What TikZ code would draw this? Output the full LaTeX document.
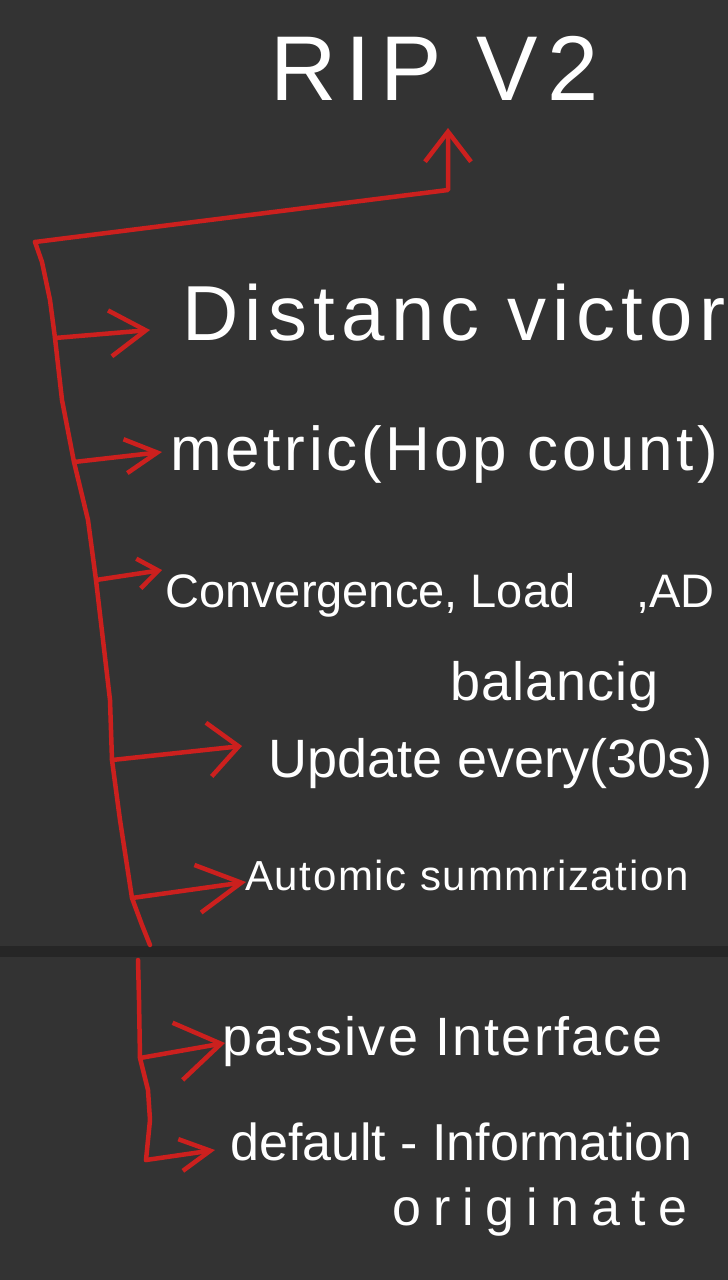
\documentclass[tikz,border=0pt]{standalone}
\usepackage{fontspec}
\setmainfont{Liberation Sans}
\usetikzlibrary{arrows.meta}
\definecolor{board}{RGB}{51,51,51}
\definecolor{band}{RGB}{38,38,38}
\definecolor{ink}{RGB}{204,32,30}
\begin{document}
\begin{tikzpicture}[x=1pt,y=-1pt,
  hand/.style={text=white, inner sep=0pt, anchor=base west},
  redline/.style={draw=ink, line width=4.5pt, line cap=round, line join=round},
  redarrow/.style 2 args={redline, -{Straight Barb[length=#1pt,width=#2pt]}}]
\useasboundingbox (0,0) rectangle (728,1280);
\clip (0,0) rectangle (728,1280);
\fill[board] (0,0) rectangle (728,1280);
\fill[band] (0,946) rectangle (728,957);

% texts
\node[hand, font=\fontsize{92}{92}\selectfont\addfontfeature{LetterSpace=10}] (title) at (270,100) {RIP V2};
\node[hand, font=\fontsize{78}{78}\selectfont\addfontfeature{LetterSpace=8}] (t1) at (182,340) {Distanc victor};
\node[hand, font=\fontsize{62}{62}\selectfont\addfontfeature{LetterSpace=6}] (t2) at (170,470) {metric(Hop count)};
\node[hand, font=\fontsize{47}{47}\selectfont] (t3) at (165,607) {Convergence, Load\hspace{48pt} ,AD};
\node[hand, font=\fontsize{54}{54}\selectfont\addfontfeature{LetterSpace=2}] (t3b) at (450,700) {balancig};
\node[hand, font=\fontsize{54}{54}\selectfont] (t4) at (268,777) {Update every(30s)};
\node[hand, font=\fontsize{42}{42}\selectfont\addfontfeature{LetterSpace=4}] (t5) at (245,890) {Automic summrization};
\node[hand, font=\fontsize{54}{54}\selectfont\addfontfeature{LetterSpace=4}] (t6) at (222,1055) {passive Interface};
\node[hand, font=\fontsize{52}{52}\selectfont] (t7) at (230,1160) {default - Information};
\node[hand, font=\fontsize{52}{52}\selectfont\addfontfeature{LetterSpace=23}] (t7b) at (392,1225) {originate};

% trunk and branch points
\coordinate (top) at (35,242);
\coordinate (b1) at (55,338);
\coordinate (b2) at (74,462);
\coordinate (b3) at (96,580);
\coordinate (b4) at (112,760);
\coordinate (b5) at (132,898);
\coordinate (b6) at (140,1058);
\coordinate (b7) at (146,1160);
\coordinate (a1) at (150,330);
\coordinate (a2) at (162,452);
\coordinate (a3) at (162,570);
\coordinate (a4) at (242,746);
\coordinate (a5) at (246,882);
\coordinate (a6) at (225,1043);
\coordinate (a7) at (215,1150);
\coordinate (up) at (448,128);

\draw[redline] (top) -- (42,262) -- (50,300) -- (b1) -- (62,400) -- (b2) -- (88,520)
  -- (b3) -- (103,640) -- (110,700) -- (b4) -- (120,820) -- (b5) -- (142,925) -- (150,945);
\draw[redline] (138,960) -- (139,1000) -- (b6) -- (148,1090) -- (150,1120) -- (b7);

\draw[redarrow={30}{46}] (top) -- (448,190) -- (up);
\draw[redarrow={36}{46}] (b1) -- (a1);
\draw[redarrow={32}{34}] (b2) -- (a2);
\draw[redarrow={20}{30}] (b3) -- (a3);
\draw[redarrow={30}{54}] (b4) -- (a4);
\draw[redarrow={44}{48}] (b5) -- (a5);
\draw[redarrow={44}{58}] (b6) -- (a6);
\draw[redarrow={30}{32}] (b7) -- (a7);
\end{tikzpicture}
\end{document}
